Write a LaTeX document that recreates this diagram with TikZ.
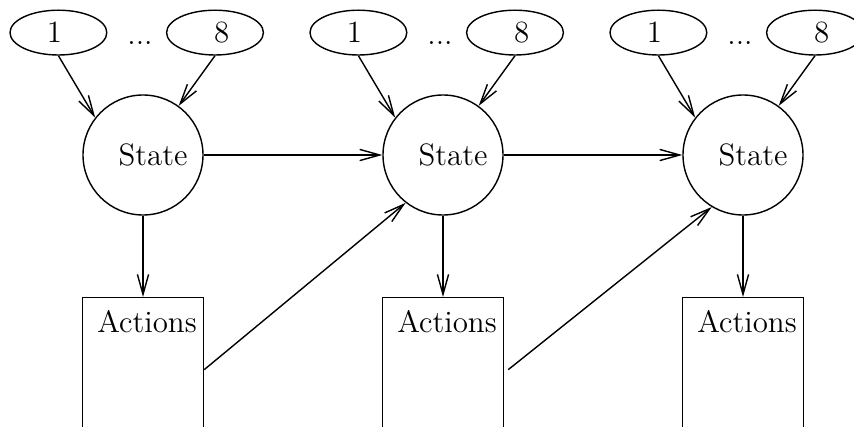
\documentclass[tikz,border=0pt]{standalone}
\usetikzlibrary{arrows.meta,shapes.geometric}
\tikzset{
	stick/.style={-{Straight Barb[length=2.5mm,width=1.4mm]}},
	txt/.style={font=\fontsize{11}{13}\selectfont},
	unitoval/.style={draw, ellipse, txt, minimum width=1.21cm, minimum height=0.56cm, inner sep=0pt},
	statecirc/.style={draw, circle, txt, minimum size=1.5cm, inner sep=0pt},
	actbox/.style={draw, rectangle, txt, anchor=north, minimum width=1.5125cm, inner xsep=0pt, inner ysep=5pt, text height=7.5pt, text depth=33.7pt},
}

\begin{document}
\begin{tikzpicture}[line width=0.5pt]
			%%%%% START %%%%%
			\clip (0, 0) rectangle (10.675, 5.3375);
			
			% first step
			\node[unitoval] (ina1) at (0.73, 4.93) {\raisebox{-1pt}{1}\hspace*{0.1cm}};
			\node[unitoval] (inb1) at (2.6875, 4.93) {\hspace*{0.17cm}\raisebox{-1pt}{8}};
			\node[txt, anchor=base] (dots1) at (1.75, 4.775) {...};
			\node[statecirc] (st1) at (1.7875, 3.4) {\hspace*{0.25cm}State};
			\node[actbox] (act1) at (1.7875, 1.625) {\hspace*{0.1cm}Actions};
			
			% second step
			\node[unitoval] (ina2) at (4.48, 4.93) {\raisebox{-1pt}{1}\hspace*{0.1cm}};
			\node[unitoval] (inb2) at (6.4375, 4.93) {\hspace*{0.17cm}\raisebox{-1pt}{8}};
			\node[txt, anchor=base] (dots2) at (5.5, 4.775) {...};
			\node[statecirc] (st2) at (5.5375, 3.4) {\hspace*{0.25cm}State};
			\node[actbox] (act2) at (5.5375, 1.625) {\hspace*{0.1cm}Actions};
			
			% third step
			\node[unitoval] (ina3) at (8.23, 4.93) {\raisebox{-1pt}{1}\hspace*{0.1cm}};
			\node[unitoval] (inb3) at (10.1875, 4.93) {\hspace*{0.17cm}\raisebox{-1pt}{8}};
			\node[txt, anchor=base] (dots3) at (9.25, 4.775) {...};
			\node[statecirc] (st3) at (9.2875, 3.4) {\hspace*{0.25cm}State};
			\node[actbox] (act3) at (9.2875, 1.625) {\hspace*{0.1cm}Actions};
			
			\draw[stick] (ina1.south) -- (st1.142);
			\draw[stick] (inb1.south) -- (st1.54);
			\draw[stick] (ina2.south) -- (st2.142);
			\draw[stick] (inb2.south) -- (st2.54);
			\draw[stick] (ina3.south) -- (st3.142);
			\draw[stick] (inb3.south) -- (st3.54);
			
			\draw[stick] (st1.east) -- (st2.west);
			\draw[stick] (st2.east) -- (st3.west);
			
			\draw[stick] (st1.south) -- (act1.north);
			\draw[stick] (st2.south) -- (act2.north);
			\draw[stick] (st3.south) -- (act3.north);
			
			\draw[stick] (act1.east) -- (st2.232);
			\draw[stick] ([xshift=0.05cm]act2.east) -- (st3.239);
			%%%%% END %%%%%
		\end{tikzpicture}
\end{document}
